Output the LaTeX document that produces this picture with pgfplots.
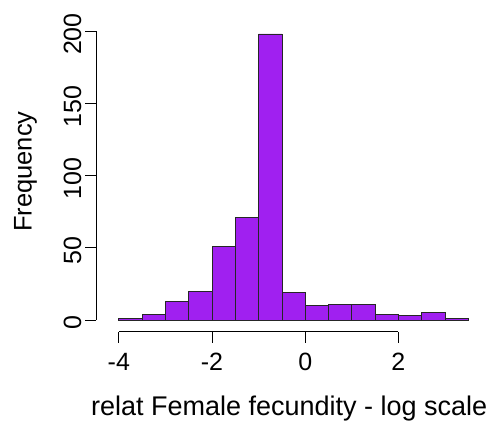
\documentclass[border=0pt]{standalone}
\usepackage{pgfplots}
\pgfplotsset{compat=1.18}
\usepackage{fontspec}
\setmainfont{Liberation Sans}
\definecolor{rpurple}{HTML}{A020F0}

\begin{document}
\begin{tikzpicture}[x=1pt,y=1pt]
\path[use as bounding box] (0,0) rectangle (501,428);
\begin{axis}[
  at={(96pt,96.4pt)}, anchor=south west,
  scale only axis,
  width=386.3pt, height=312.1pt,
  xmin=-4.49, xmax=3.8,
  ymin=-8, ymax=208,
  axis x line*=bottom, axis y line*=left,
  axis line style={draw=none},
  xtick={-4,-2,0,2},
  ytick={0,50,100,150,200},
  tick align=outside,
  major tick length=11pt,
  tick style={black, line width=0.8pt},
  /pgf/number format/assume math mode=true,
  ticklabel style={font=\fontsize{25}{25}\selectfont},
  xticklabel style={yshift=-7pt},
  yticklabel style={rotate=90, anchor=south, xshift=-3pt},
  xlabel={relat Female fecundity - log scale},
  ylabel={Frequency},
  xlabel style={font=\fontsize{27}{27}\selectfont, yshift=-18pt},
  ylabel style={font=\fontsize{25.5}{25.5}\selectfont, yshift=20pt, xshift=4pt},
  clip=false,
]
\addplot[ybar interval, fill=rpurple, draw=black!85, line width=0.8pt]
  coordinates {
    (-4.0,1) (-3.5,4) (-3.0,13) (-2.5,20) (-2.0,51) (-1.5,71)
    (-1.0,198) (-0.5,19) (0.0,10) (0.5,11) (1.0,11) (1.5,4)
    (2.0,3) (2.5,5) (3.0,1) (3.5,1)
  };
% R-style axis lines spanning only the tick range
\draw[black, line width=0.8pt] (axis cs:-4,-8) -- (axis cs:2,-8);
\draw[black, line width=0.8pt] (axis cs:-4.49,0) -- (axis cs:-4.49,200);
\end{axis}
\end{tikzpicture}
\end{document}
